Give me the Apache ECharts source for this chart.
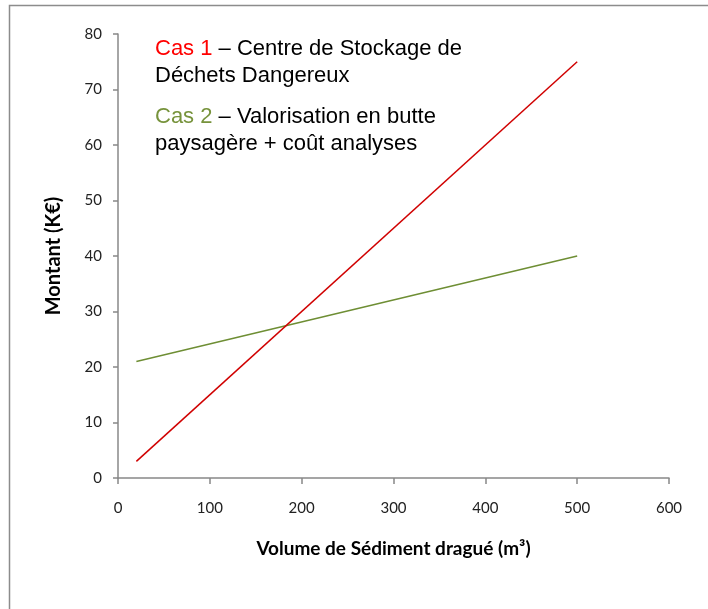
<!DOCTYPE html>
<html>
<head>
<meta charset="utf-8">
<script src="https://cdn.jsdelivr.net/npm/echarts@6/dist/echarts.min.js"></script>
<style>
  html, body { margin: 0; padding: 0; background: #fff; }
  #chart { width: 708px; height: 609px; }
</style>
</head>
<body>
<div id="chart"></div>
<script>
// Cost of sediment disposal versus dredged volume
const volumes = [20, 500];
const cas1Values = [3, 75];
const cas2Values = [21, 40];
const xTicks = [0, 100, 200, 300, 400, 500, 600];
const yTicks = [0, 10, 20, 30, 40, 50, 60, 70, 80];

const cas1Label = 'Cas 1';
const cas1Text = ['– Centre de Stockage de', 'Déchets Dangereux'];
const cas2Label = 'Cas 2';
const cas2Text = ['– Valorisation en butte', 'paysagère + coût analyses'];

const axisFont = 'Lato, "Open Sans", sans-serif';
const textFont = '"Liberation Sans", Arial, sans-serif';

const chart = echarts.init(document.getElementById('chart'), null, { renderer: 'canvas' });

chart.setOption({
  animation: false,
  backgroundColor: '#fff',
  grid: { left: 118, top: 34, right: 39, bottom: 131, containLabel: false },
  xAxis: {
    type: 'value',
    min: xTicks[0],
    max: xTicks[xTicks.length - 1],
    interval: 100,
    name: 'Volume de Sédiment dragué (m³)',
    nameLocation: 'middle',
    nameGap: 61,
    nameTextStyle: { fontFamily: axisFont, fontWeight: 'bold', fontSize: 19, color: '#000' },
    axisLine: { show: true, lineStyle: { color: '#888', width: 1.5 } },
    axisTick: { show: true, inside: false, length: 6, lineStyle: { color: '#888', width: 1.5 } },
    axisLabel: { fontFamily: axisFont, fontSize: 15, color: '#222', margin: 23 },
    splitLine: { show: false }
  },
  yAxis: {
    type: 'value',
    min: yTicks[0],
    max: yTicks[yTicks.length - 1],
    interval: 10,
    name: 'Montant (K€)',
    nameLocation: 'middle',
    nameGap: 54,
    nameRotate: 90,
    nameTextStyle: { fontFamily: axisFont, fontWeight: 'bold', fontSize: 20, color: '#000' },
    axisLine: { show: true, lineStyle: { color: '#888', width: 1.5 } },
    axisTick: { show: true, length: 5, lineStyle: { color: '#888', width: 1.5 } },
    axisLabel: { fontFamily: axisFont, fontSize: 15, color: '#222', margin: 16 },
    splitLine: { show: false }
  },
  series: [
    {
      name: cas1Label,
      type: 'line',
      data: volumes.map((v, i) => [v, cas1Values[i]]),
      symbol: 'none',
      lineStyle: { color: '#D00000', width: 1.5 },
      z: 3
    },
    {
      name: cas2Label,
      type: 'line',
      data: volumes.map((v, i) => [v, cas2Values[i]]),
      symbol: 'none',
      lineStyle: { color: '#6E8E34', width: 1.5 },
      z: 2
    }
  ],
  graphic: [
    {
      type: 'rect',
      shape: { x: 9.5, y: 5.5, width: 720, height: 620 },
      style: { fill: 'none', stroke: '#8c8c8c', lineWidth: 1.5 },
      silent: true
    },
    {
      type: 'text',
      left: 155, top: 35,
      style: {
        rich: {
          r: { fill: '#FF0000', fontFamily: textFont, fontSize: 22 },
          k: { fill: '#000', fontFamily: textFont, fontSize: 22 }
        },
        text: '{r|' + cas1Label + '}{k| ' + cas1Text[0] + '}\n{k|' + cas1Text[1] + '}',
        lineHeight: 27
      }
    },
    {
      type: 'text',
      left: 155, top: 103,
      style: {
        rich: {
          g: { fill: '#77933C', fontFamily: textFont, fontSize: 22 },
          k: { fill: '#000', fontFamily: textFont, fontSize: 22 }
        },
        text: '{g|' + cas2Label + '}{k| ' + cas2Text[0] + '}\n{k|' + cas2Text[1] + '}',
        lineHeight: 27
      }
    }
  ]
});
</script>
</body>
</html>
